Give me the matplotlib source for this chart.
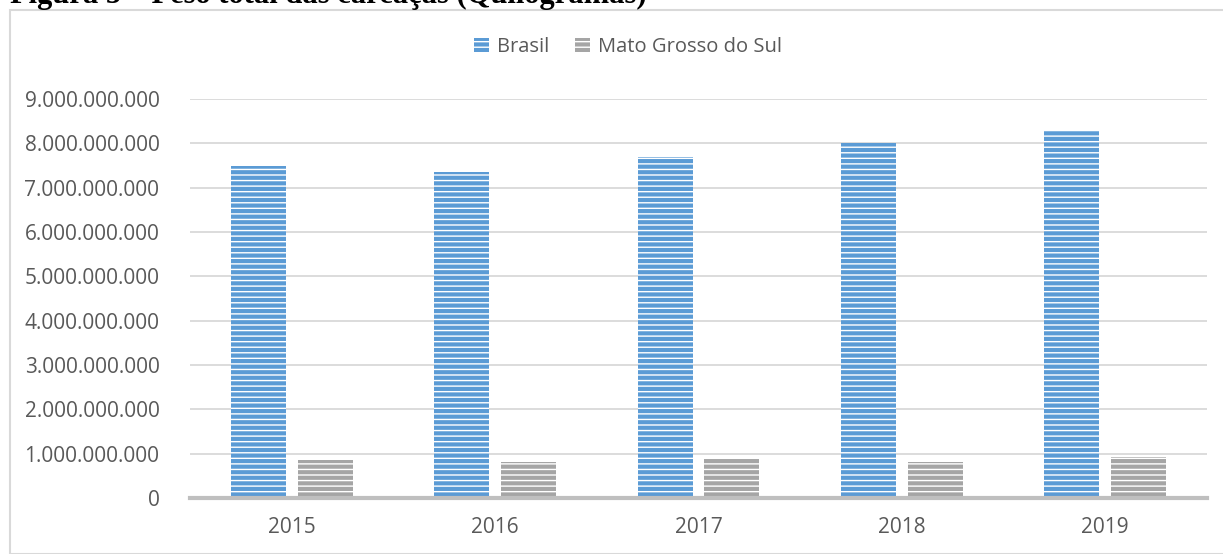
import matplotlib.pyplot as plt
import matplotlib.patches as mpatches
import matplotlib.ticker as mticker
import numpy as np

anos = ['2015', '2016', '2017', '2018', '2019']
brasil = [7.50e9, 7.36e9, 7.70e9, 8.00e9, 8.27e9]
ms = [0.86e9, 0.81e9, 0.88e9, 0.81e9, 0.92e9]

azul = '#5B9BD5'
cinza = '#A5A5A5'
texto = '#595959'

plt.rcParams['font.family'] = ['Open Sans', 'DejaVu Sans']
plt.rcParams['hatch.linewidth'] = 1.0

fig = plt.figure(figsize=(12.23, 5.54), dpi=100)
W, H = 1223, 554

# moldura do gráfico
fig.patches.append(mpatches.Rectangle((10 / W, 0), 1.2, 1 - 10 / H, transform=fig.transFigure,
                                      fill=False, edgecolor='#D9D9D9', linewidth=1.5))
# título cortado no topo
fig.text(10 / W, 1 - 3.5 / H, 'Figura 5 – Peso total das carcaças (Quilogramas)', fontsize=22,
         fontweight='bold', family='Liberation Serif', va='baseline', ha='left')

ax = fig.add_axes([190 / W, (H - 498) / H, (1207 - 190) / W, (498 - 99) / H])
x = np.arange(len(anos))
w = 0.27
off = 0.164
ax.bar(x - off, brasil, w, color=azul, edgecolor='white', linewidth=0, hatch='---', label='Brasil')
ax.bar(x + off, ms, w, color=cinza, edgecolor='white', linewidth=0, hatch='---',
       label='Mato Grosso do Sul')

ax.set_xlim(-0.5, 4.5)
ax.set_ylim(0, 9e9)
ax.set_xticks(x)
ax.set_xticklabels(anos)
ax.set_yticks(np.arange(0, 9.1e9, 1e9))
ax.yaxis.set_major_formatter(mticker.FuncFormatter(lambda v, p: f'{int(v):,}'.replace(',', '.')))
ax.tick_params(axis='both', length=0, labelsize=15, colors=texto)
ax.tick_params(axis='x', pad=14)
ax.tick_params(axis='y', pad=22)
ax.grid(axis='y', color='#D9D9D9', linewidth=1.3)
ax.set_axisbelow(True)
for s in ['top', 'right', 'left']:
    ax.spines[s].set_visible(False)
ax.spines['bottom'].set_color('#BFBFBF')
ax.spines['bottom'].set_linewidth(3)

h, l = ax.get_legend_handles_labels()
fig.legend(h, l, loc='center', bbox_to_anchor=(628 / W, 1 - 47 / H), ncol=2, frameon=False,
           fontsize=14.5, labelcolor=texto, handlelength=0.75, handleheight=0.75,
           handletextpad=0.4, columnspacing=1.3)

fig.savefig('out.png', dpi=100)
